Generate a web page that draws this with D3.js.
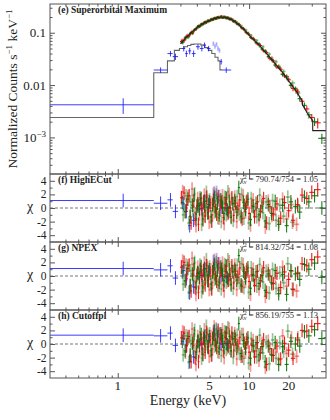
<!DOCTYPE html>
<html>
<head>
<meta charset="utf-8">
<script src="https://cdn.jsdelivr.net/npm/d3@7"></script>
<style>
body { margin: 0; background: #fff; }
svg text { font-family: 'Liberation Serif', 'Times New Roman', 'DejaVu Serif', serif; fill: #222; }
</style>
</head>
<body>
<svg id="canvas" width="330" height="420" font-family="Liberation Serif, Times New Roman, serif"></svg>
<script>
// ---- data ----
// red, first data group
let redEnergy = [3.05, 3.2, 3.35, 3.5, 3.62, 3.75, 3.88, 4.0, 4.12, 4.25,
  4.38, 4.5, 4.63, 4.76, 4.9, 5.05, 5.2, 5.35, 5.5, 5.66,
  5.82, 6.0, 6.18, 6.36, 6.55, 6.75, 6.95, 7.17, 7.4, 7.65,
  7.9, 8.2, 8.5, 8.85, 9.2, 9.6, 10.0, 10.5, 11.0, 11.6,
  12.2, 12.9, 13.6, 14.4, 15.3, 16.3, 17.4, 18.6, 20.0, 21.6,
  23.4, 25.3, 27.5, 30.0, 33.3]
let redCounts = [0.068, 0.071, 0.086, 0.088, 0.101, 0.100, 0.116, 0.121, 0.136, 0.134,
  0.150, 0.147, 0.163, 0.158, 0.172, 0.168, 0.184, 0.178, 0.194, 0.186,
  0.202, 0.193, 0.206, 0.191, 0.203, 0.188, 0.195, 0.178, 0.182, 0.162,
  0.165, 0.145, 0.142, 0.120, 0.116, 0.098, 0.093, 0.078, 0.073, 0.061,
  0.057, 0.045, 0.042, 0.032, 0.029, 0.022, 0.020, 0.0150, 0.0126, 0.0086,
  0.0074, 0.0049, 0.0035, 0.0024, 0.0019]
// green, first data group
let greenEnergy = [3.1, 3.26, 3.42, 3.56, 3.7, 3.82, 3.95, 4.07, 4.2, 4.32,
  4.45, 4.57, 4.7, 4.84, 4.98, 5.13, 5.28, 5.43, 5.58, 5.74,
  5.92, 6.1, 6.28, 6.46, 6.66, 6.86, 7.07, 7.3, 7.53, 7.78,
  8.05, 8.35, 8.7, 9.05, 9.4, 9.8, 10.25, 10.75, 11.3, 11.9,
  12.55, 13.25, 14.0, 14.85, 15.8, 16.8, 18.0, 19.3, 20.8, 22.5,
  24.3, 26.4, 28.5, 31.5, 35.8]
let greenCounts = [0.066, 0.080, 0.083, 0.097, 0.098, 0.112, 0.118, 0.132, 0.131, 0.146,
  0.145, 0.160, 0.155, 0.170, 0.166, 0.180, 0.176, 0.191, 0.184, 0.199,
  0.192, 0.204, 0.193, 0.203, 0.190, 0.196, 0.181, 0.184, 0.166, 0.168,
  0.150, 0.147, 0.127, 0.121, 0.104, 0.098, 0.082, 0.077, 0.065, 0.061,
  0.049, 0.045, 0.035, 0.031, 0.024, 0.022, 0.0160, 0.0144, 0.0099, 0.0085,
  0.0055, 0.0041, 0.0027, 0.0020, 0.00096]
let hardRelErr = [0.09, 0.08, 0.08, 0.07, 0.07, 0.065, 0.06, 0.06, 0.055, 0.055,
  0.05, 0.05, 0.05, 0.05, 0.048, 0.048, 0.046, 0.046, 0.045, 0.045,
  0.045, 0.045, 0.045, 0.045, 0.045, 0.046, 0.046, 0.047, 0.047, 0.048,
  0.049, 0.05, 0.05, 0.052, 0.053, 0.055, 0.056, 0.058, 0.06, 0.062,
  0.065, 0.068, 0.07, 0.074, 0.078, 0.082, 0.088, 0.094, 0.1, 0.11,
  0.12, 0.13, 0.15, 0.17, 0.22]

// second (faint) data group, red and green
let redEnergyB = [3.12, 3.28, 3.42, 3.56, 3.68, 3.81, 3.94, 4.06, 4.18, 4.31,
  4.44, 4.56, 4.69, 4.83, 4.97, 5.12, 5.27, 5.42, 5.58, 5.74,
  5.91, 6.09, 6.27, 6.46, 6.65, 6.85, 7.06, 7.28, 7.52, 7.77,
  8.05, 8.35, 8.68, 9.02, 9.4, 9.8, 10.25, 10.75, 11.3, 11.9,
  12.55, 13.3, 14.0, 14.9, 15.8, 16.8, 18.0, 19.3, 21.0, 23.0]
let redCountsB = [0.072, 0.076, 0.090, 0.092, 0.107, 0.108, 0.116, 0.133, 0.131, 0.146,
  0.144, 0.159, 0.155, 0.170, 0.166, 0.182, 0.176, 0.192, 0.184, 0.199,
  0.191, 0.205, 0.193, 0.203, 0.190, 0.197, 0.181, 0.186, 0.167, 0.169,
  0.147, 0.147, 0.126, 0.123, 0.103, 0.100, 0.082, 0.079, 0.064, 0.061,
  0.049, 0.045, 0.035, 0.033, 0.025, 0.023, 0.0165, 0.0146, 0.0099, 0.0080]
let greenEnergyB = [3.15, 3.31, 3.47, 3.6, 3.72, 3.85, 3.98, 4.1, 4.23, 4.35,
  4.48, 4.6, 4.73, 4.87, 5.01, 5.16, 5.31, 5.46, 5.62, 5.78,
  5.96, 6.14, 6.32, 6.51, 6.7, 6.9, 7.12, 7.34, 7.58, 7.84,
  8.12, 8.43, 8.76, 9.12, 9.5, 9.92, 10.38, 10.9, 11.45, 12.05,
  12.75, 13.5, 14.25, 15.1, 16.05, 17.1, 18.3, 19.7, 21.4, 23.5]
let greenCountsB = [0.066, 0.082, 0.084, 0.099, 0.099, 0.115, 0.126, 0.125, 0.140, 0.137,
  0.153, 0.149, 0.164, 0.160, 0.176, 0.171, 0.186, 0.180, 0.195, 0.188,
  0.202, 0.192, 0.204, 0.191, 0.201, 0.185, 0.192, 0.174, 0.178, 0.157,
  0.158, 0.136, 0.135, 0.114, 0.112, 0.092, 0.089, 0.073, 0.071, 0.055,
  0.054, 0.041, 0.039, 0.029, 0.028, 0.021, 0.0182, 0.0131, 0.0110, 0.0070]
let hardRelErrB = [0.09, 0.085, 0.08, 0.075, 0.07, 0.068, 0.065, 0.062, 0.06, 0.058,
  0.056, 0.055, 0.054, 0.053, 0.052, 0.051, 0.05, 0.05, 0.05, 0.05,
  0.05, 0.05, 0.05, 0.05, 0.05, 0.05, 0.051, 0.052, 0.053, 0.054,
  0.055, 0.056, 0.058, 0.06, 0.062, 0.064, 0.066, 0.068, 0.07, 0.073,
  0.076, 0.08, 0.084, 0.088, 0.092, 0.097, 0.103, 0.11, 0.12, 0.135]

// soft X-ray (blue) points
let blueEnergy = [1.1, 2.12, 2.52, 2.75, 3.18, 3.33, 3.53, 3.78, 4.08, 4.37, 4.58, 4.92, 6.13, 6.7]
let blueLo = [0.305, 1.88, 2.39, 2.62, 3.1, 3.26, 3.44, 3.66, 3.94, 4.22, 4.48, 4.78, 6.0, 6.25]
let blueHi = [1.88, 2.39, 2.62, 2.88, 3.26, 3.42, 3.62, 3.92, 4.22, 4.5, 4.7, 5.08, 6.25, 7.3]
let blueCounts = [0.0042, 0.0194, 0.040, 0.035, 0.050, 0.040, 0.045, 0.040, 0.054, 0.050, 0.058, 0.050, 0.028, 0.0194]
let blueRelErr = [0.33, 0.12, 0.12, 0.14, 0.12, 0.14, 0.14, 0.14, 0.12, 0.12, 0.12, 0.12, 0.12, 0.12]
let faintEnergy = [5.35, 5.5, 5.65, 5.8, 5.95]
let faintCounts = [0.062, 0.055, 0.060, 0.050, 0.046]
let faintRelErr = [0.1, 0.1, 0.1, 0.1, 0.1]

// models
let modelEnergy = [3.0, 3.3, 3.6, 4.0, 4.5, 5.0, 5.5, 6.0, 6.5, 7.0, 7.5, 8.0, 9.0, 10, 11,
  12, 13, 14, 16, 18, 20, 23, 25.5, 25.5, 28, 30.5, 30.5, 38.5]
let modelCounts = [0.062, 0.08, 0.098, 0.125, 0.152, 0.172, 0.188, 0.198, 0.197, 0.188, 0.173, 0.155, 0.12, 0.09, 0.071,
  0.057, 0.045, 0.037, 0.0246, 0.0175, 0.012, 0.0075, 0.0048, 0.0042, 0.0028, 0.0021, 0.00135, 0.00135]
let blueModelEdges = [0.305, 1.88, 2.39, 2.7, 2.95, 3.2, 3.4, 3.6, 3.8, 4.0, 4.3, 4.6, 4.9, 5.2, 5.5, 5.8, 6.0, 6.25]
let blueModelCounts = [0.0024, 0.0172, 0.029, 0.046, 0.050, 0.054, 0.057, 0.060, 0.061, 0.061, 0.058, 0.052, 0.046, 0.040, 0.034, 0.029, 0.0195]

// residuals (chi) per model
let redResHighECut = [1.5, 2.2, 0.5, 1.8, -2.2, 1.0, -1.5, 0.3, -2.4, 1.2,
  -0.4, 0.9, -1.2, 1.6, -0.6, 0.4, -1.9, 1.1, 0.2, -0.9,
  1.7, -0.3, 0.8, -1.4, 0.6, 1.3, -0.7, 0.1, 1.5, -1.1,
  0.7, -0.2, 1.2, -1.6, 0.4, 1.0, -0.8, 0.3, -1.3, 0.9,
  -0.5, 1.4, -2.2, 0.2, -0.9, 0.6, -1.5, 0.8, -0.4, -1.8,
  0.5, 1.9, 1.4, 2.3, 2.7]
let greenResHighECut = [0.8, -0.5, 1.3, -1.2, 0.4, 1.9, -0.9, 0.6, -0.2, 1.4,
  -1.6, 0.3, 1.0, -0.7, 0.9, -1.3, 0.5, 1.6, -0.4, 0.7,
  -1.0, 1.2, 0.1, -0.8, 1.5, -0.3, 0.9, -1.4, 0.6, 1.1,
  -0.6, 3.0, -1.2, 0.8, -0.2, 1.3, -1.7, 0.2, 0.7, -1.0,
  0.3, -1.9, 0.5, -0.8, 1.0, -2.4, 0.4, -2.6, 0.9, 0.2,
  -0.6, 1.6, 0.9, 1.8, 0.0]
let redResNPEX = [1.3, 2.0, 0.3, 1.6, -2.2, 0.8, -1.7, 0.1, -2.4, 1.0,
  -0.5, 0.8, -1.3, 1.5, -0.7, 0.4, -1.9, 1.1, 0.3, -0.8,
  1.8, -0.2, 0.9, -1.3, 0.7, 1.4, -0.6, 0.2, 1.5, -1.0,
  0.7, -0.2, 1.2, -1.5, 0.4, 1.0, -0.8, 0.2, -1.4, 0.7,
  -0.7, 1.2, -2.4, 0.0, -1.1, 0.4, -1.7, 0.6, -0.5, -2.0,
  0.4, 1.8, 1.5, 2.4, 2.8]
let greenResNPEX = [0.6, -0.7, 1.1, -1.4, 0.3, 1.8, -1.0, 0.5, -0.2, 1.4,
  -1.6, 0.3, 1.0, -0.6, 0.9, -1.2, 0.6, 1.7, -0.3, 0.8,
  -0.9, 1.3, 0.2, -0.7, 1.5, -0.3, 0.9, -1.3, 0.6, 1.0,
  -0.6, 3.0, -1.3, 0.7, -0.3, 1.2, -1.8, 0.1, 0.6, -1.1,
  0.1, -2.1, 0.3, -1.0, 0.8, -2.6, 0.2, -2.7, 0.8, 0.3,
  -0.5, 1.7, 1.0, 1.9, -0.2]
let redResCutoffpl = [0.9, 1.6, -0.2, 1.1, -2.6, 0.4, -2.0, -0.3, -2.6, 0.8,
  -0.6, 0.8, -1.2, 1.6, -0.5, 0.6, -1.6, 1.4, 0.6, -0.5,
  2.0, 0.1, 1.2, -1.0, 1.0, 1.6, -0.3, 0.4, 1.6, -0.9,
  0.7, -0.3, 1.0, -1.8, 0.1, 0.7, -1.2, -0.2, -1.9, 0.2,
  -1.3, 0.6, -3.0, -0.7, -1.7, -0.3, -2.2, 0.1, -0.9, -2.1,
  0.6, 2.0, 1.9, 2.6, 3.0]
let greenResCutoffpl = [0.4, -1.0, 0.8, -1.6, 0.1, 1.5, -1.2, 0.4, -0.2, 1.4,
  -1.5, 0.5, 1.2, -0.4, 1.1, -1.0, 0.8, 1.9, -0.1, 1.0,
  -0.6, 1.5, 0.4, -0.5, 1.7, -0.1, 1.1, -1.0, 0.8, 1.1,
  -0.6, 3.0, -1.4, 0.5, -0.6, 0.9, -2.1, -0.3, 0.2, -1.6,
  -0.4, -2.6, -0.3, -1.6, 0.2, -3.0, -0.4, -3.0, 0.4, 0.0,
  -0.3, 1.8, 1.2, 2.1, 0.8]

let redResHighECutB = [2.4, -0.6, 1.7, -1.3, 2.8, 0.2, -2.6, 1.4, -0.9, 0.6,
  -1.8, 1.9, -0.3, 1.1, -2.1, 0.8, -1.0, 2.2, -0.4, 1.3,
  -1.5, 0.9, 1.8, -2.3, 0.4, -0.8, 2.0, -1.2, 0.7, 1.6,
  -2.0, 0.3, -1.4, 1.8, -0.6, 0.9, -2.5, 1.2, -0.3, -1.7,
  0.8, -2.8, 1.0, -1.1, -0.2, -2.0, 1.3, -1.6, 0.5, -2.4]
let greenResHighECutB = [-1.0, 1.8, -2.2, 0.9, -0.4, 2.1, -1.6, 0.3, 1.5, -2.4,
  0.7, -1.1, 2.3, -0.8, 1.2, -1.9, 0.5, -0.6, 1.9, -1.4,
  1.1, -2.0, 0.6, 1.6, -1.0, 2.4, -0.5, 1.3, -1.8, 0.2,
  1.7, -0.9, 2.0, -1.5, 0.8, -2.2, 1.4, -0.4, -1.3, 1.9,
  -0.7, 0.9, -2.3, 1.1, -1.8, 0.4, -1.2, 1.6, -2.1, 0.3]
let redResNPEXB = [2.2, -0.8, 1.5, -1.4, 2.6, 0.1, -2.7, 1.3, -1.0, 0.6,
  -1.8, 1.9, -0.2, 1.2, -2.0, 0.9, -0.9, 2.3, -0.3, 1.4,
  -1.4, 1.0, 1.9, -2.2, 0.5, -0.7, 2.1, -1.1, 0.7, 1.6,
  -2.0, 0.2, -1.5, 1.7, -0.8, 0.7, -2.7, 1.0, -0.5, -1.9,
  0.6, -3.0, 0.8, -1.2, -0.3, -2.1, 1.3, -1.5, 0.7, -2.2]
let greenResNPEXB = [-1.2, 1.6, -2.4, 0.8, -0.5, 2.0, -1.6, 0.3, 1.6, -2.3,
  0.8, -1.0, 2.4, -0.7, 1.3, -1.8, 0.6, -0.5, 2.0, -1.3,
  1.2, -1.9, 0.7, 1.7, -0.9, 2.4, -0.5, 1.2, -1.8, 0.1,
  1.6, -1.0, 1.8, -1.7, 0.6, -2.4, 1.2, -0.6, -1.5, 1.7,
  -0.9, 0.7, -2.5, 1.0, -1.8, 0.5, -1.0, 1.8, -1.9, 0.5]
let redResCutoffplB = [1.8, -1.2, 1.1, -1.8, 2.2, -0.2, -3.0, 1.1, -1.1, 0.6,
  -1.6, 2.1, 0.0, 1.4, -1.8, 1.1, -0.7, 2.5, -0.1, 1.6,
  -1.2, 1.2, 2.1, -2.0, 0.7, -0.5, 2.2, -1.0, 0.7, 1.5,
  -2.2, 0.0, -1.8, 1.4, -1.2, 0.3, -3.1, 0.5, -1.0, -2.4,
  0.1, -3.4, 0.4, -1.6, -0.6, -2.3, 1.2, -1.4, 0.9, -1.8]
let greenResCutoffplB = [-1.6, 1.2, -2.7, 0.5, -0.6, 2.0, -1.5, 0.5, 1.8, -2.1,
  1.0, -0.8, 2.6, -0.5, 1.5, -1.6, 0.8, -0.3, 2.2, -1.1,
  1.4, -1.7, 0.8, 1.8, -0.8, 2.4, -0.6, 1.0, -2.0, -0.2,
  1.3, -1.4, 1.4, -2.1, 0.2, -2.8, 0.8, -1.0, -1.9, 1.3,
  -1.3, 0.3, -2.9, 0.6, -2.1, 0.2, -1.1, 1.9, -1.5, 0.9]

let blueResHighECut = [1.1, 0.7, 1.2, -0.5, 0.6, -0.5, -2.6, -1.8, 0.3, -0.1, 1.0, 0.5, 0.1, 0.0]
let blueResNPEX = [1.1, 0.9, 1.5, -0.3, 0.8, -0.4, -2.5, -1.6, 0.4, 0.1, 1.1, 0.6, 0.1, -0.1]
let blueResCutoffpl = [1.3, 1.2, 1.6, -0.2, 0.8, -0.3, -2.6, -1.9, 0.3, 0.0, 1.0, 0.5, 0.0, 0.1]
let faintResHighECut = [2.0, 1.5, 2.3, 1.2, 1.7]
let faintResNPEX = [2.1, 1.6, 2.4, 1.3, 1.8]
let faintResCutoffpl = [1.8, 1.3, 2.0, 1.0, 1.5]

let panelNames = ['(f) HighECut', '(g) NPEX', '(h) Cutoffpl']
let chiValues = ['790.74/754 = 1.05', '814.32/754 = 1.08', '856.19/755 = 1.13']

// ticks
let energyMajor = [1, 10]
let energyMinor = [0.4, 0.5, 0.6, 0.7, 0.8, 0.9, 2, 3, 4, 5, 6, 7, 8, 9, 20, 30]
let energyLabels = [1, 5, 10, 20]
let countMajor = [0.001, 0.01, 0.1]
let countMinor = [0.0003, 0.0004, 0.0005, 0.0006, 0.0007, 0.0008, 0.0009,
  0.002, 0.003, 0.004, 0.005, 0.006, 0.007, 0.008, 0.009,
  0.02, 0.03, 0.04, 0.05, 0.06, 0.07, 0.08, 0.09, 0.2, 0.3]
let chiMajor = [-4, -2, 0, 2, 4]
let chiMinor = [-3, -1, 1, 3]

// ---- drawing ----
let canvas = d3.select('#canvas')
let left = 50, right = 326
let topY0 = 4, topY1 = 174, resH = 68
let axisColor = '#555'
let red = '#f00000', green = '#007000', blue = '#1a1aff', blueLight = '#a0a0ff'
let serif = "'Liberation Serif', 'Times New Roman', serif"

let x = d3.scaleLog().domain([0.305, 38.5]).range([left, right])
let yCounts = d3.scaleLog().domain([2e-4, 0.354]).range([topY1, topY0])

// bin edges halfway (in log) between neighbouring bin centres
let binEdges = (E) => E.map((e, i) => {
  let lo = i > 0 ? Math.sqrt(E[i - 1] * e) : e * e / Math.sqrt(e * E[i + 1])
  let hi = i < E.length - 1 ? Math.sqrt(e * E[i + 1]) : e * e / Math.sqrt(E[i - 1] * e)
  return [lo, hi]
})

let clipId = 0
let makeClip = (y0, y1) => {
  clipId++
  canvas.append('clipPath').attr('id', 'clip' + clipId)
    .append('rect').attr('x', left).attr('y', y0).attr('width', right - left).attr('height', y1 - y0)
  return canvas.append('g').attr('clip-path', 'url(#clip' + clipId + ')')
}

let drawCrosses = (g, pts, yScale, color, alpha, width) => {
  let cross = g.append('g')
    .attr('stroke', color).attr('stroke-opacity', alpha).attr('stroke-width', width)
    .selectAll(null).data(pts).enter().append('g')
  cross.append('line')
    .attr('x1', d => x(d.lo)).attr('x2', d => x(d.hi))
    .attr('y1', d => yScale(d.y)).attr('y2', d => yScale(d.y))
  cross.append('line')
    .attr('x1', d => x(d.e)).attr('x2', d => x(d.e))
    .attr('y1', d => yScale(d.ylo)).attr('y2', d => yScale(d.yhi))
}

let binnedPoints = (E, vals, errFn) => {
  let edges = binEdges(E)
  return E.map((e, i) => {
    let [ylo, yhi] = errFn(vals[i], i)
    return {e: e, lo: edges[i][0], hi: edges[i][1], y: vals[i], ylo: ylo, yhi: yhi}
  })
}

let softPoints = (E, lo, hi, vals, errFn) => E.map((e, i) => {
  let [ylo, yhi] = errFn(vals[i], i)
  return {e: e, lo: lo[i], hi: hi[i], y: vals[i], ylo: ylo, yhi: yhi}
})

let styleAxis = (g) => {
  g.select('.domain').remove()
  g.selectAll('line').attr('stroke', axisColor)
}

let drawFrame = (y0, y1, yScale, yMajor, yMinor) => {
  canvas.append('g').attr('transform', 'translate(0,' + y1 + ')')
    .call(d3.axisBottom(x).tickValues(energyMajor).tickSize(-5).tickFormat('')).call(styleAxis)
  canvas.append('g').attr('transform', 'translate(0,' + y1 + ')')
    .call(d3.axisBottom(x).tickValues(energyMinor).tickSize(-2.5).tickFormat('')).call(styleAxis)
  canvas.append('g').attr('transform', 'translate(0,' + y0 + ')')
    .call(d3.axisTop(x).tickValues(energyMajor).tickSize(-5).tickFormat('')).call(styleAxis)
  canvas.append('g').attr('transform', 'translate(0,' + y0 + ')')
    .call(d3.axisTop(x).tickValues(energyMinor).tickSize(-2.5).tickFormat('')).call(styleAxis)
  canvas.append('g').attr('transform', 'translate(' + left + ',0)')
    .call(d3.axisLeft(yScale).tickValues(yMajor).tickSize(-5).tickFormat('')).call(styleAxis)
  canvas.append('g').attr('transform', 'translate(' + left + ',0)')
    .call(d3.axisLeft(yScale).tickValues(yMinor).tickSize(-2.5).tickFormat('')).call(styleAxis)
  canvas.append('g').attr('transform', 'translate(' + right + ',0)')
    .call(d3.axisRight(yScale).tickValues(yMajor).tickSize(-5).tickFormat('')).call(styleAxis)
  canvas.append('g').attr('transform', 'translate(' + right + ',0)')
    .call(d3.axisRight(yScale).tickValues(yMinor).tickSize(-2.5).tickFormat('')).call(styleAxis)
  canvas.append('rect')
    .attr('x', left).attr('y', y0).attr('width', right - left).attr('height', y1 - y0)
    .attr('fill', 'none').attr('stroke', axisColor).attr('stroke-width', 1)
}

let addText = (sel) => sel.append('text').attr('font-family', serif).attr('fill', '#222')

// ---- top panel ----
let topG = makeClip(topY0, topY1)
let relErrFn = (rel) => (v, i) => [v * (1 - rel[i]), v * (1 + rel[i])]

// blue model as steps
let blueStep = []
blueModelCounts.forEach((v, i) => {
  blueStep.push([blueModelEdges[i], v])
  blueStep.push([blueModelEdges[i + 1], v])
})
topG.append('path')
  .datum(blueStep)
  .attr('d', d3.line().x(d => x(d[0])).y(d => yCounts(d[1])))
  .attr('fill', 'none').attr('stroke', '#666').attr('stroke-width', 1.1)

drawCrosses(topG, softPoints(faintEnergy, faintEnergy.map(e => e - 0.07), faintEnergy.map(e => e + 0.07),
  faintCounts, relErrFn(faintRelErr)), yCounts, blueLight, 0.8, 1.6)
drawCrosses(topG, softPoints(blueEnergy, blueLo, blueHi, blueCounts, relErrFn(blueRelErr)), yCounts, blue, 0.85, 1)
drawCrosses(topG, binnedPoints(redEnergyB, redCountsB, relErrFn(hardRelErrB)), yCounts, red, 0.4, 1.6)
drawCrosses(topG, binnedPoints(greenEnergyB, greenCountsB, relErrFn(hardRelErrB)), yCounts, green, 0.4, 1.6)
drawCrosses(topG, binnedPoints(redEnergy, redCounts, relErrFn(hardRelErr)), yCounts, red, 0.9, 1.1)
drawCrosses(topG, binnedPoints(greenEnergy, greenCounts, relErrFn(hardRelErr)), yCounts, green, 0.9, 1.1)

topG.append('path')
  .datum(modelEnergy.map((e, i) => [e, modelCounts[i]]))
  .attr('d', d3.line().x(d => x(d[0])).y(d => yCounts(d[1])))
  .attr('fill', 'none').attr('stroke', '#222').attr('stroke-width', 1.1)

drawFrame(topY0, topY1, yCounts, countMajor, countMinor)

// top panel tick labels
countMajor.forEach(d => {
  let t = addText(canvas).attr('x', left - 4).attr('y', yCounts(d) + 4.5)
    .attr('text-anchor', 'end').attr('font-size', 13)
  if (d === 0.001) {
    t.append('tspan').text('10')
    t.append('tspan').attr('dy', -5).attr('font-size', 9).text('−3')
  } else {
    t.text(d === 0.1 ? '0.1' : '0.01')
  }
})

let yTitle = addText(canvas)
  .attr('transform', 'translate(17,' + ((topY0 + topY1) / 2) + ') rotate(-90)')
  .attr('text-anchor', 'middle').attr('font-size', 13.5)
yTitle.append('tspan').text('Normalized Counts s')
yTitle.append('tspan').attr('dy', -5).attr('font-size', 9).text('−1')
yTitle.append('tspan').attr('dy', 5).text(' keV')
yTitle.append('tspan').attr('dy', -5).attr('font-size', 9).text('−1')

addText(canvas).attr('x', 58).attr('y', topY0 + 8.5)
  .attr('font-size', 9.5).attr('font-weight', 'bold').text('(e) Superorbital Maximum')

// ---- residual panels ----
let redRes = [redResHighECut, redResNPEX, redResCutoffpl]
let greenRes = [greenResHighECut, greenResNPEX, greenResCutoffpl]
let redResB = [redResHighECutB, redResNPEXB, redResCutoffplB]
let greenResB = [greenResHighECutB, greenResNPEXB, greenResCutoffplB]
let blueRes = [blueResHighECut, blueResNPEX, blueResCutoffpl]
let faintRes = [faintResHighECut, faintResNPEX, faintResCutoffpl]
let chiErr = (v) => [v - 1, v + 1]

panelNames.forEach((name, p) => {
  let y0 = topY1 + p * resH, y1 = y0 + resH
  let yChi = d3.scaleLinear().domain([-5, 5]).range([y1, y0])
  let g = makeClip(y0, y1)

  g.append('line')
    .attr('x1', left).attr('x2', right).attr('y1', yChi(0)).attr('y2', yChi(0))
    .attr('stroke', '#777').attr('stroke-dasharray', '3,2').attr('stroke-width', 1)

  drawCrosses(g, softPoints(blueEnergy, blueLo, blueHi, blueRes[p], chiErr), yChi, blue, 0.85, 1)
  drawCrosses(g, softPoints(faintEnergy, faintEnergy.map(e => e - 0.07), faintEnergy.map(e => e + 0.07),
    faintRes[p], chiErr), yChi, blueLight, 0.8, 2)
  drawCrosses(g, binnedPoints(redEnergyB, redResB[p], chiErr), yChi, red, 0.4, 1.7)
  drawCrosses(g, binnedPoints(greenEnergyB, greenResB[p], chiErr), yChi, green, 0.4, 1.7)
  drawCrosses(g, binnedPoints(redEnergy, redRes[p], chiErr), yChi, red, 0.9, 1.1)
  drawCrosses(g, binnedPoints(greenEnergy, greenRes[p], chiErr), yChi, green, 0.9, 1.1)

  drawFrame(y0, y1, yChi, chiMajor, chiMinor)

  chiMajor.forEach(d => {
    addText(canvas).attr('x', left - 3.5).attr('y', yChi(d) + 4)
      .attr('text-anchor', 'end').attr('font-size', 11.5).text(d)
  })

  addText(canvas).attr('x', 30).attr('y', yChi(0) + 3)
    .attr('text-anchor', 'middle').attr('font-size', 14).text('χ')

  addText(canvas).attr('x', 58).attr('y', y0 + 8.5)
    .attr('font-size', 9.5).attr('font-weight', 'bold').text(name)

  let chiText = addText(canvas).attr('x', 318).attr('y', y0 + 7.5)
    .attr('text-anchor', 'end').attr('font-size', 8.5)
  chiText.append('tspan').text('χ')
  chiText.append('tspan').attr('dy', -3).attr('font-size', 6).text('2')
  chiText.append('tspan').attr('dx', -3).attr('dy', 5).attr('font-size', 6).text('ν')
  chiText.append('tspan').attr('dy', -2).text(' = ' + chiValues[p])
})

// x tick labels and title
let bottomY = topY1 + 3 * resH
energyLabels.forEach(d => {
  addText(canvas).attr('x', x(d)).attr('y', bottomY + 12)
    .attr('text-anchor', 'middle').attr('font-size', 13).text(d)
})

addText(canvas).attr('x', (left + right) / 2).attr('y', bottomY + 27)
  .attr('text-anchor', 'middle').attr('font-size', 14).text('Energy (keV)')
</script>
</body>
</html>
